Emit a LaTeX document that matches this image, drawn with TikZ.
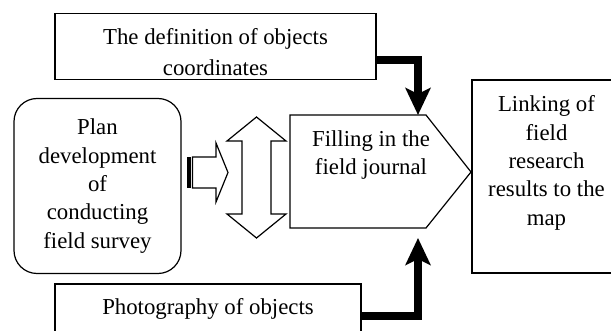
\documentclass[tikz,border=0pt]{standalone}
\usepackage{fontspec}
\setmainfont{Liberation Serif}
\usetikzlibrary{arrows.meta}
\begin{document}
\begin{tikzpicture}[x=1pt,y=-1pt,
  every node/.style={font=\fontsize{22.8}{28.3}\selectfont, align=center, inner sep=0pt},
  box/.style={draw, line width=1.2pt, rectangle},
  thickarrow/.style={line width=7.5pt, line join=miter, -{Stealth[length=27pt,width=25pt,inset=6pt]}},
  outline/.style={draw, line width=1.2pt, fill=white, line join=miter}]
\useasboundingbox (0,0) rectangle (611,331);

% top box
\node[box, minimum width=321pt, minimum height=66.5pt] (defbox) at (215.5,46.5) {};
\begin{scope}
  \clip (55,13.3) rectangle (376,76);
  \node (deftext) at (215.5,52) {The definition of objects\\[3pt]coordinates};
\end{scope}

% rounded box
\node[box, rounded corners=23pt, minimum width=167pt, minimum height=175pt] (plan) at (97.5,186)
  {Plan\\development\\of\\conducting\\field survey};

% pentagon
\draw[line width=1.2pt, line join=miter] (290,115) -- (426,115) -- (471,172) -- (426,228) -- (290,228) -- cycle;
\node (fill) at (371,155) {Filling in the\\field journal};
\coordinate (pentop) at (418,115);
\coordinate (pentbot) at (418,238);

% right box
\node[box, minimum width=149pt, minimum height=193pt] (link) at (546.5,176.5) {};
\node (linktext) at (546.5,163) {Linking of\\field\\research\\results to the\\map};

% bottom box
\node[box, minimum width=306pt, minimum height=80pt] (photo) at (208,324) {};
\node (phototext) at (208,309) {Photography of objects};

% thick connectors
\draw[thickarrow] ([yshift=-13.5pt]defbox.east) -| (pentop);
\draw[thickarrow] ([yshift=8pt]photo.east) -| (pentbot);

% double arrow
\draw[outline] (256.5,117) -- (286,141) -- (271,141) -- (271,214) -- (286,214) -- (256.5,238)
  -- (227,214) -- (242,214) -- (242,141) -- (227,141) -- cycle;

% small block arrow
\fill (187,157) rectangle (191,188);
\draw[outline] (192.5,157) -- (216,157) -- (216,143) -- (228,172.5) -- (216,202) -- (216,188) -- (192.5,188) -- cycle;
\end{tikzpicture}
\end{document}
